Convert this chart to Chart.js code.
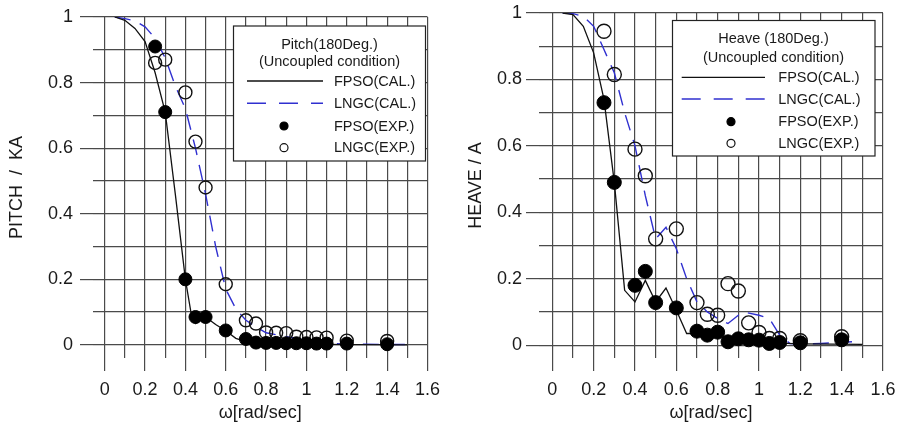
<!DOCTYPE html>
<html>
<head>
<meta charset="utf-8">
<script src="https://cdn.jsdelivr.net/npm/chart.js@4.4.1/dist/chart.umd.min.js"></script>
<style>
   html, body { margin: 0; padding: 0; background: #fff; overflow: hidden; width: 897px; height: 432px; }
   #pitchChart { position: absolute; left: 0; top: 0; }
   #heaveChart { position: absolute; left: 450px; top: 0; }
</style>
</head>
<body>
<canvas id="pitchChart" width="450" height="432"></canvas>
<canvas id="heaveChart" width="470" height="432"></canvas>
<script>
// ---- data: [omega, amplitude] ----
const pitchFpsoCal = [[0.05,1.0],[0.1,0.99],[0.15,0.965],[0.2,0.925],[0.25,0.83],[0.3,0.71],[0.35,0.46],[0.4,0.2],[0.43,0.09],[0.45,0.065],[0.5,0.085],[0.55,0.062],[0.6,0.043],[0.65,0.02],[0.7,0.01],[0.8,0.004],[1.0,0.002],[1.2,0.001],[1.5,0]];
const pitchLngcCal = [[0.05,1.0],[0.1,0.995],[0.15,0.988],[0.2,0.97],[0.25,0.935],[0.3,0.875],[0.35,0.79],[0.4,0.72],[0.45,0.6],[0.5,0.46],[0.55,0.3],[0.6,0.17],[0.65,0.11],[0.7,0.075],[0.75,0.055],[0.8,0.037],[0.9,0.025],[1.0,0.015],[1.1,0.005],[1.2,0.002],[1.5,0.001]];
const pitchFpsoExp = [[0.25,0.91],[0.3,0.71],[0.4,0.2],[0.45,0.085],[0.5,0.085],[0.6,0.044],[0.7,0.018],[0.75,0.007],[0.8,0.006],[0.85,0.006],[0.9,0.005],[0.95,0.005],[1.0,0.005],[1.05,0.004],[1.1,0.004],[1.2,0.004],[1.4,0.002]];
const pitchLngcExp = [[0.25,0.86],[0.3,0.87],[0.4,0.77],[0.45,0.62],[0.5,0.48],[0.6,0.185],[0.7,0.075],[0.75,0.065],[0.8,0.038],[0.85,0.037],[0.9,0.036],[0.95,0.025],[1.0,0.024],[1.05,0.023],[1.1,0.022],[1.2,0.013],[1.4,0.012]];

const heaveFpsoCal = [[0.05,1.0],[0.1,0.995],[0.15,0.96],[0.2,0.88],[0.25,0.74],[0.3,0.49],[0.35,0.165],[0.4,0.13],[0.45,0.195],[0.5,0.13],[0.55,0.172],[0.6,0.105],[0.65,0.035],[0.7,0.035],[0.75,0.028],[0.8,0.033],[0.85,0.012],[0.9,0.015],[1.0,0.012],[1.1,0.006],[1.2,0.004],[1.5,0.002]];
const heaveLngcCal = [[0.05,1.0],[0.1,0.998],[0.15,0.99],[0.2,0.96],[0.25,0.89],[0.3,0.82],[0.35,0.7],[0.4,0.6],[0.45,0.45],[0.5,0.32],[0.55,0.355],[0.6,0.29],[0.65,0.2],[0.7,0.13],[0.75,0.1],[0.8,0.08],[0.85,0.065],[0.9,0.09],[0.925,0.1],[1.0,0.09],[1.05,0.08],[1.1,0.03],[1.15,0.005],[1.2,0.003],[1.3,0.005],[1.45,0.01]];
const heaveFpsoExp = [[0.25,0.73],[0.3,0.49],[0.4,0.18],[0.45,0.222],[0.5,0.128],[0.6,0.112],[0.7,0.042],[0.75,0.03],[0.8,0.039],[0.85,0.01],[0.9,0.019],[0.95,0.016],[1.0,0.015],[1.05,0.005],[1.1,0.008],[1.2,0.007],[1.4,0.016]];
const heaveLngcExp = [[0.25,0.945],[0.3,0.815],[0.4,0.59],[0.45,0.51],[0.5,0.32],[0.6,0.35],[0.7,0.128],[0.75,0.093],[0.8,0.09],[0.85,0.185],[0.9,0.163],[0.95,0.067],[1.0,0.038],[1.05,0.02],[1.1,0.02],[1.2,0.013],[1.4,0.025]];

// ---- ticks ----
const xTicks = [0,0.1,0.2,0.3,0.4,0.5,0.6,0.7,0.8,0.9,1.0,1.1,1.2,1.3,1.4,1.5,1.6];
const xMajor = [0,0.2,0.4,0.6,0.8,1.0,1.2,1.4,1.6];
const yTicks = [0,0.1,0.2,0.3,0.4,0.5,0.6,0.7,0.8,0.9,1.0];
const yMajor = [0,0.2,0.4,0.6,0.8,1.0];

const FONT = "'Liberation Sans', Arial, sans-serif";
const TXT = "#1a1a1a";
const GRID = "#4a4a4a";
const BLUE = "#3030d0";

const pts = arr => arr.map(([x, y]) => ({ x, y }));
const near = (list, v) => list.some(m => Math.abs(m - v) < 1e-6);
const fmt = v => String(Math.round(v * 10) / 10);

function axis(ticks, majors, min, max, title, o) {
   return {
      type: "linear",
      position: o.position,
      min, max,
      afterBuildTicks: s => { s.ticks = ticks.map(v => ({ value: v })); },
      afterFit: s => { if (o.width) s.width = o.width; if (o.height) s.height = o.height; },
      border: { display: false },
      grid: {
         color: GRID,
         lineWidth: 1.2,
         drawTicks: true,
         tickLength: 13,
         tickWidth: 1.2,
         tickColor: c => (c.tick && near(majors, c.tick.value)) ? GRID : "rgba(0,0,0,0)",
      },
      ticks: {
         autoSkip: false,
         maxRotation: 0,
         padding: o.labelPad,
         color: TXT,
         font: { family: FONT, size: 18, lineHeight: 1 },
         callback: v => near(majors, v) ? fmt(v) : "",
      },
      title: {
         display: true,
         text: title,
         color: TXT,
         font: { family: FONT, size: 18, lineHeight: 1.2 },
         padding: o.titlePad,
      },
   };
}

const boxLegend = {
   id: "boxLegend",
   afterDraw(chart, args, o) {
      const ctx = chart.ctx;
      ctx.save();
      ctx.fillStyle = "#fff";
      ctx.fillRect(o.x, o.y, o.w, o.h);
      ctx.strokeStyle = "#222";
      ctx.lineWidth = 1.2;
      ctx.strokeRect(o.x, o.y, o.w, o.h);
      ctx.font = `14.5px ${FONT}`;
      ctx.fillStyle = TXT;
      ctx.textBaseline = "middle";
      ctx.textAlign = "center";
      o.title.forEach((t, i) => ctx.fillText(t, o.cx, o.titleY[i]));
      ctx.textAlign = "left";
      o.entries.forEach((idx, i) => {
         const ds = chart.data.datasets[idx];
         const y = o.rowY[i];
         if (ds.showLine) {
            ctx.save();
            ctx.strokeStyle = ds.borderColor;
            ctx.lineWidth = ds.borderWidth;
            ctx.setLineDash(ds.borderDash ? [19, 13] : []);
            ctx.beginPath();
            ctx.moveTo(o.lineX0, y);
            ctx.lineTo(o.lineX1, y);
            ctx.stroke();
            ctx.restore();
         } else {
            ctx.beginPath();
            ctx.arc(o.markX, y, 4, 0, Math.PI * 2);
            ctx.fillStyle = ds.pointBackgroundColor;
            ctx.fill();
            ctx.strokeStyle = ds.pointBorderColor;
            ctx.lineWidth = 1.2;
            ctx.stroke();
            ctx.fillStyle = TXT;
         }
         ctx.fillText(ds.label, o.textX, y + 0.5);
      });
      ctx.restore();
   },
};

function datasets(fpsoCal, lngcCal, fpsoExp, lngcExp, r) {
   return [
      { label: "FPSO(CAL.)", data: pts(fpsoCal), showLine: true, borderColor: "#111", borderWidth: 1.3, pointRadius: 0, order: 2 },
      { label: "LNGC(CAL.)", data: pts(lngcCal), showLine: true, borderColor: BLUE, borderWidth: 1.4, borderDash: [16, 10], pointRadius: 0, order: 3 },
      { label: "FPSO(EXP.)", data: pts(fpsoExp), showLine: false, pointRadius: r, pointBackgroundColor: "#000", pointBorderColor: "#000", pointBorderWidth: 1, order: 0 },
      { label: "LNGC(EXP.)", data: pts(lngcExp), showLine: false, pointRadius: r, pointBackgroundColor: "rgba(255,255,255,0)", pointBorderColor: "#111", pointBorderWidth: 1.4, order: 1 },
   ];
}

function makeChart(id, data, scales, padding, legend) {
   return new Chart(document.getElementById(id).getContext("2d"), {
      type: "scatter",
      data: { datasets: data },
      options: {
         responsive: false,
         animation: false,
         events: [],
         devicePixelRatio: 1,
         layout: { padding },
         plugins: { legend: { display: false }, tooltip: { enabled: false }, boxLegend: legend },
         scales,
      },
      plugins: [boxLegend],
   });
}

makeChart("pitchChart",
   datasets(pitchFpsoCal, pitchLngcCal, pitchFpsoExp, pitchLngcExp, 6.5),
   {
      x: axis(xTicks, xMajor, -0.058, 1.6, "\u03c9[rad/sec]", { position: "bottom", height: 74, labelPad: 10, titlePad: { top: 0, bottom: 8 } }),
      y: axis(yTicks, yMajor, -0.04, 1, "PITCH  /  KA", { position: "left", width: 93, labelPad: 7, titlePad: { top: 6, bottom: 0 } }),
   },
   { top: 17, right: 16, bottom: 0, left: 0 },
   {
      x: 233.5, y: 26, w: 192, h: 135, cx: 329.5,
      title: ["Pitch(180Deg.)", "(Uncoupled condition)"], titleY: [45, 62.3],
      entries: [0, 1, 2, 3], rowY: [81, 103.3, 126, 147.7],
      lineX0: 247, lineX1: 323, markX: 284, textX: 334,
   });

makeChart("heaveChart",
   datasets(heaveFpsoCal, heaveLngcCal, heaveFpsoExp, heaveLngcExp, 7),
   {
      x: axis(xTicks, xMajor, -0.0644, 1.6, "\u03c9[rad/sec]", { position: "bottom", height: 74, labelPad: 10, titlePad: { top: 0, bottom: 8 } }),
      y: axis(yTicks, yMajor, -0.0388, 1, "HEAVE / A", { position: "left", width: 89, labelPad: 4, titlePad: { top: 15, bottom: 0 } }),
   },
   { top: 10, right: 37, bottom: 0, left: 0 },
   {
      x: 222.5, y: 20.5, w: 202.5, h: 135.5, cx: 323.5,
      title: ["Heave (180Deg.)", "(Uncoupled condition)"], titleY: [39.3, 58.3],
      entries: [0, 1, 2, 3], rowY: [77.3, 99, 121.7, 143.3],
      lineX0: 231.7, lineX1: 315, markX: 281, textX: 328.3,
   });
</script>
</body>
</html>
